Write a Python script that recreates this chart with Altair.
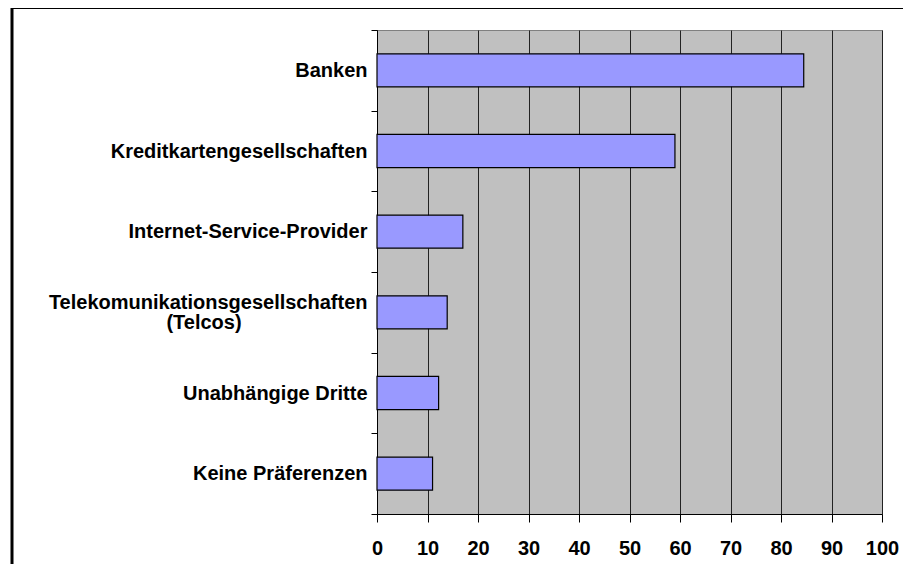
import altair as alt
import pandas as pd

categories = [
    "Banken",
    "Kreditkartengesellschaften",
    "Internet-Service-Provider",
    "Telekomunikationsgesellschaften (Telcos)",
    "Unabhängige Dritte",
    "Keine Präferenzen",
]
values = [84.5, 59, 17, 13.9, 12.2, 11]
x_ticks = [0, 10, 20, 30, 40, 50, 60, 70, 80, 90, 100]
two_line_cat = "Telekomunikationsgesellschaften (Telcos)"
first_line_text = "Telekomunikationsgesellschaften"
second_line_text = ["(Telcos)"]

df = pd.DataFrame({"cat": categories, "val": values})
df2 = pd.DataFrame({"cat": [two_line_cat], "txt": second_line_text})
border_df = pd.DataFrame({"a": [0]})

FONT = "Liberation Sans"
is_two = f"datum.value == '{two_line_cat}'"

y_enc = alt.Y(
    "cat:N",
    sort=categories,
    scale=alt.Scale(domain=categories, paddingInner=0, paddingOuter=0),
    axis=alt.Axis(
        title=None,
        grid=False,
        domainColor="black",
        tickColor="black",
        tickSize=6,
        tickBand="extent",
        labelFont=FONT,
        labelFontSize=20,
        labelFontWeight="bold",
        labelColor="black",
        labelPadding=4,
        labelLimit=500,
        labelExpr=f"{is_two} ? '{first_line_text}' : datum.value",
        labelOffset=alt.condition(is_two, alt.value(-10), alt.value(0)),
    ),
)

x_enc = alt.X(
    "val:Q",
    scale=alt.Scale(domain=[0, 100], nice=False),
    axis=alt.Axis(
        title=None,
        values=x_ticks,
        grid=True,
        gridColor="#222222",
        gridWidth=1,
        domainColor="black",
        tickColor="black",
        tickSize=8,
        labelFont=FONT,
        labelFontSize=20,
        labelFontWeight="bold",
        labelColor="black",
        labelPadding=16,
        labelFlush=False,
    ),
)

bars = alt.Chart(df).mark_bar(
    fill="#9999FF", stroke="#000000", strokeWidth=1.2,
    height=alt.RelativeBandSize(0.41),
).encode(x=x_enc, y=y_enc)

second = alt.Chart(df2).mark_text(
    font=FONT, fontSize=20, fontWeight="bold", color="black",
    align="center", baseline="middle", dy=11
).encode(
    y=alt.Y("cat:N", sort=categories),
    x=alt.value(-173),
    text="txt:N",
)

border = alt.Chart(border_df).mark_rect(
    fillOpacity=0, stroke="black", strokeWidth=3
).encode(
    x=alt.value(-365), x2=alt.value(560),
    y=alt.value(-22.5), y2=alt.value(560),
)

chart = alt.layer(bars, second, border).properties(
    width=505,
    height=484,
    autosize=alt.AutoSizeParams(type="none"),
    padding={"left": 369, "top": 22, "right": 21, "bottom": 50},
    background="white",
).configure_view(
    fill="#C0C0C0", stroke="#808080", strokeWidth=1
)

chart.save("out.html", embed_options={"renderer": "svg", "actions": False})
